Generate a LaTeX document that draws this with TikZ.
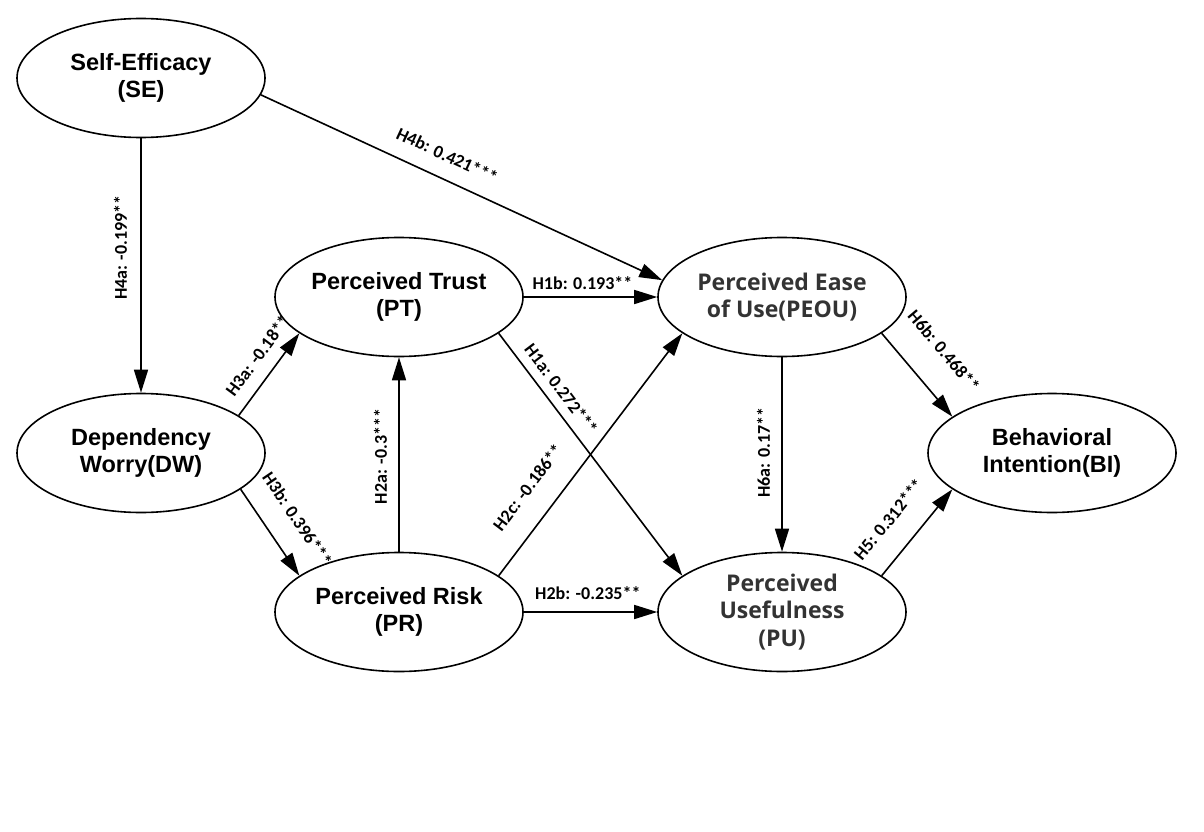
\documentclass[tikz,border=0pt]{standalone}
\usepackage{fontspec}
\setmainfont{Liberation Sans}
\newfontfamily\greyfont{Open Sans}
\newfontfamily\coeffont{Carlito}
\usetikzlibrary{arrows.meta,shapes.geometric}

\tikzset{
  construct/.style={draw, ellipse, line width=1.6pt, minimum width=248pt,
    minimum height=119pt, inner sep=0pt, align=center,
    font=\bfseries\fontsize{23.5}{27}\selectfont},
  greyconstruct/.style={construct, text=black!80,
    font=\greyfont\bfseries\fontsize{23}{27.5}\selectfont},
  hyp/.style={line width=1.6pt, -{Triangle[length=23pt,width=14pt]}},
  coef/.style={font=\coeffont\bfseries\fontsize{18}{21}\selectfont, sloped, inner sep=2pt},
  vcoef/.style={font=\coeffont\bfseries\fontsize{18}{21}\selectfont, rotate=90,
    anchor=south, inner sep=2pt},
}

\begin{document}
\begin{tikzpicture}[x=1pt, y=-1pt]
\useasboundingbox (0,0) rectangle (1204,832);

% Constructs
\node[construct] (SE) at (141,78) {Self-Efficacy\\(SE)};
\node[construct] (DW) at (141,453) {Dependency\\Worry(DW)};
\node[construct] (PT) at (399,297) {Perceived Trust\\(PT)};
\node[construct] (PR) at (399,612) {Perceived Risk\\(PR)};
\node[greyconstruct] (PEOU) at (782,297) {Perceived Ease\\of Use(PEOU)};
\node[greyconstruct] (PU) at (782,612) {Perceived\\Usefulness\\(PU)};
\node[construct] (BI) at (1052,453) {Behavioral\\Intention(BI)};

% Hypotheses
\draw[hyp] (SE.south) -- (DW.north)
  node[vcoef, pos=0.43, outer sep=12pt] {H4a: -0.199**};
\draw[hyp] (SE.-8) -- (PEOU.172)
  node[coef, pos=0.44, above=14pt] {H4b: 0.421***};
\draw[hyp] (DW.21) -- (PT.200)
  node[coef, pos=0.58, above=11pt] {H3a: -0.18**};
\draw[hyp] (DW.-20) -- (PR.160)
  node[coef, pos=0.54, above=21pt] {H3b: 0.396***};
\draw[hyp] (PR.north) -- (PT.south)
  node[vcoef, pos=0.49, outer sep=10pt] {H2a: -0.3***};
\draw[hyp] (PT.east) -- (PEOU.west)
  node[coef, pos=0.44, above=5pt] {H1b: 0.193**};
\draw[hyp] (PT.-20) -- (PU.160)
  node[coef, pos=0.27, above=7pt] {H1a: 0.272***};
\draw[hyp] (PR.20) -- (PEOU.200)
  node[coef, pos=0.29, above=21pt] {H2c: -0.186**};
\draw[hyp] (PR.east) -- (PU.west)
  node[coef, pos=0.48, above=10pt] {H2b: -0.235**};
\draw[hyp] (PEOU.south) -- (PU.north)
  node[vcoef, pos=0.49, outer sep=10pt] {H6a: 0.17**};
\draw[hyp] (PEOU.-20) -- (BI.160)
  node[coef, pos=0.49, above=27pt] {H6b: 0.468**};
\draw[hyp] (PU.20) -- (BI.200)
  node[coef, pos=0.43, above=21pt] {H5: 0.312***};

\end{tikzpicture}
\end{document}
